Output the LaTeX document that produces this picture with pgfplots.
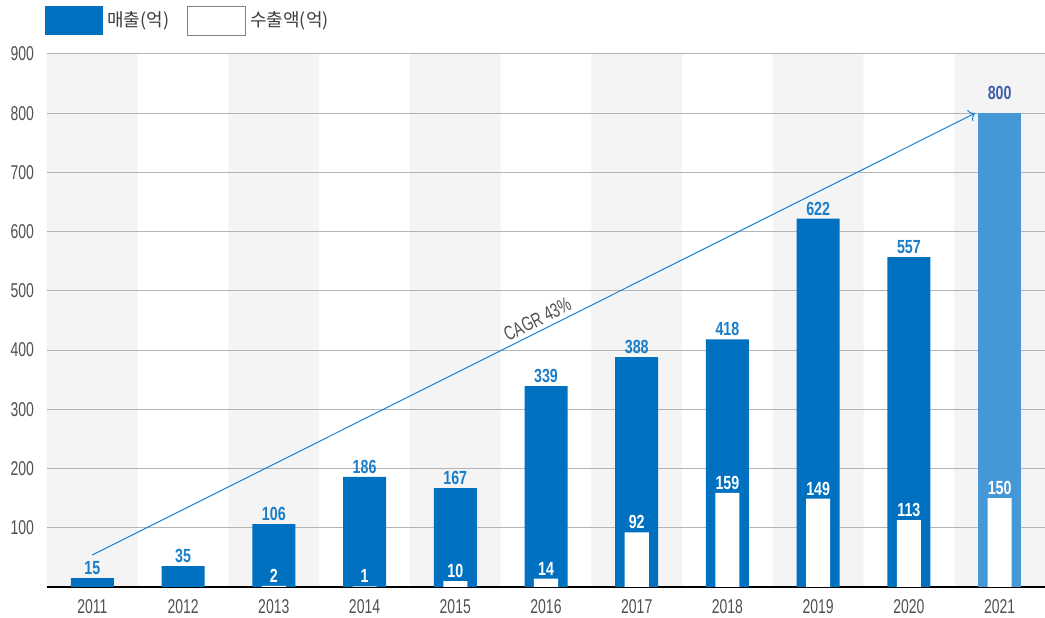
\documentclass[border=0pt]{standalone}
\usepackage{pgfplots}
\pgfplotsset{compat=1.18}
\usetikzlibrary{arrows.meta}
\usepackage{fontspec}
\setmainfont{Liberation Sans}
\newfontfamily\numfont[FakeStretch=0.7]{Liberation Sans}
\newfontfamily\numbold[FakeStretch=0.75]{Liberation Sans Bold}
\newfontfamily\kr{Noto Sans CJK KR}
\definecolor{barblue}{RGB}{0,113,193}
\definecolor{lightbar}{RGB}{69,152,214}
\definecolor{labelblue}{RGB}{26,125,202}
\definecolor{labeleight}{RGB}{60,95,170}
\definecolor{band}{RGB}{244,244,244}
\definecolor{gridgray}{RGB}{180,180,180}
\definecolor{ticktext}{RGB}{80,80,80}
\definecolor{arrowblue}{RGB}{26,128,208}
\definecolor{legtext}{RGB}{60,60,60}
\begin{document}
\begin{tikzpicture}
\begin{axis}[
  set layers,
  scale only axis,
  width=499pt, height=266.5pt,
  xmin=-0.5, xmax=10.5,
  ymin=0, ymax=900,
  xtick={0,...,10},
  xticklabels={2011,2012,2013,2014,2015,2016,2017,2018,2019,2020,2021},
  ytick={100,200,...,900},
  /pgf/number format/assume math mode=true,
  ticklabel style={font=\fontsize{10}{12}\numfont, text=ticktext},
  xticklabel style={yshift=-3pt},
  yticklabel style={xshift=-3pt},
  axis x line*=bottom,
  axis y line*=left,
  y axis line style={draw=none},
  x axis line style={black, line width=0.8pt},
  tick style={draw=none},
  ymajorgrids,
  major grid style={gridgray, line width=0.5pt},
  clip=false,
  legend style={at={(axis description cs:0,1)}, anchor=south west,
    xshift=-1pt, yshift=9pt, draw=none, fill=none, inner sep=0pt,
    legend columns=2, font=\fontsize{9}{11}\kr, text=legtext,
    /tikz/every even column/.append style={column sep=7pt}},
  legend cell align=left,
]
% background bands
\addplot[ybar, bar width=1, bar shift=0pt, fill=band, draw=none,
  on layer=axis background, forget plot]
  coordinates {(0,900) (2,900) (4,900) (6,900) (8,900) (10,900)};
% sales
\addplot[ybar, bar width=0.474, bar shift=0pt, fill=barblue, draw=none,
  nodes near coords,
  every node near coord/.append style={font=\fontsize{9.5}{11}\numbold, text=labelblue, inner sep=1.5pt},
  legend image code/.code={\fill[barblue] (0pt,-7.25pt) rectangle (29pt,7.25pt);}]
  coordinates {(0,15) (1,35) (2,106) (3,186) (4,167) (5,339) (6,388) (7,418) (8,622) (9,557)};
\addlegendentry{매출(억)}
\addplot[ybar, bar width=0.474, bar shift=0pt, fill=lightbar, draw=none,
  nodes near coords, forget plot,
  every node near coord/.append style={font=\fontsize{9.5}{11}\numbold, text=labeleight, inner sep=1.5pt, yshift=5pt}]
  coordinates {(10,800)};
% exports
\addplot[ybar, bar width=0.265, bar shift=0pt, fill=white, draw=none,
  nodes near coords,
  every node near coord/.append style={font=\fontsize{9.5}{11}\numbold, text=white, inner sep=1.5pt},
  legend image code/.code={\draw[gray, line width=0.5pt, fill=white] (0pt,-7.25pt) rectangle (29pt,7.25pt);}]
  coordinates {(2,2) (3,1) (4,10) (5,14) (6,92) (7,159) (8,149) (9,113) (10,150)};
\addlegendentry{수출액(억)}
% CAGR arrow
\addplot[arrowblue, line width=0.5pt, -{To[length=3pt]}, forget plot, mark=none]
  coordinates {(0,54) (9.73,800)}
  node[pos=0.51, sloped, above, font=\fontsize{10}{12}\numfont, text=ticktext, inner sep=2pt] {CAGR 43\%};
\end{axis}
\pgfresetboundingbox
\path[use as bounding box] ([xshift=-23.5pt,yshift=-15.5pt]current axis.south west) rectangle ([yshift=27pt]current axis.north east);
\end{tikzpicture}
\end{document}
